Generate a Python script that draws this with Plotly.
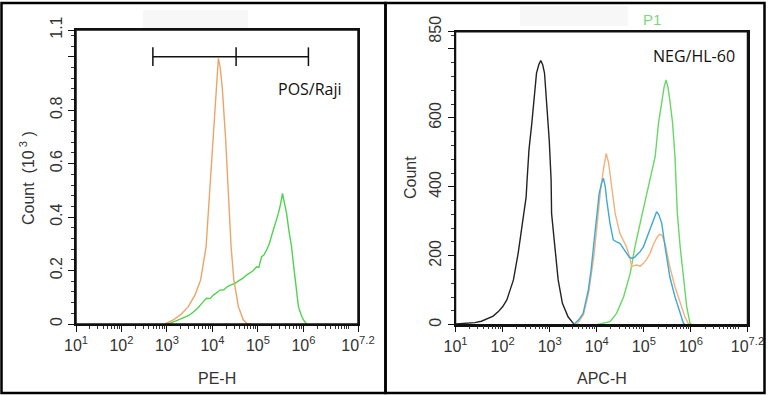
import numpy as np
import plotly.graph_objects as go

W, H = 774, 395

# ---------------- data (x positions as log10 of intensity) ----------------
# Left panel: PE-H, Count (10^3)
pos_orange_log = [2.95, 2.99, 3.14, 3.30, 3.47, 3.62, 3.74, 3.86, 3.96, 4.02, 4.09, 4.13,
                  4.17, 4.22, 4.29, 4.35, 4.41, 4.47, 4.57, 4.68, 4.77, 4.85]
pos_orange_val = [0.0, 0.003, 0.015, 0.035, 0.065, 0.11, 0.165, 0.289, 0.539, 0.69, 0.875, 0.994,
                  0.96, 0.875, 0.69, 0.50, 0.289, 0.165, 0.065, 0.015, 0.0, 0.0]

pos_green_log = [3.00, 3.07, 3.20, 3.35, 3.48, 3.58, 3.68, 3.78, 3.87, 3.95, 4.02, 4.10, 4.17,
                 4.25, 4.33, 4.42, 4.50, 4.58, 4.66, 4.75, 4.83, 4.90, 4.97, 5.02, 5.08, 5.13,
                 5.19, 5.25, 5.30, 5.34, 5.40, 5.45, 5.50, 5.54, 5.58, 5.63, 5.68, 5.74, 5.78,
                 5.82, 5.86, 5.89, 5.95, 6.00, 6.07]
pos_green_val = [0.0, 0.003, 0.012, 0.022, 0.032, 0.045, 0.060, 0.080, 0.096, 0.095, 0.108, 0.118, 0.127,
                 0.128, 0.140, 0.147, 0.152, 0.162, 0.170, 0.183, 0.193, 0.200, 0.214, 0.212, 0.252, 0.258,
                 0.277, 0.300, 0.330, 0.352, 0.385, 0.414, 0.450, 0.489, 0.455, 0.414, 0.350, 0.289, 0.225,
                 0.165, 0.110, 0.065, 0.035, 0.015, 0.0]

gate_log = [2.69, 4.52, 6.11]
gate_level = 1.0
gate_cap = [0.965, 1.035]

# Right panel: APC-H, Count
neg_black_log = [1.00, 1.20, 1.41, 1.55, 1.70, 1.80, 1.91, 2.00, 2.09, 2.16, 2.23, 2.33, 2.44, 2.50,
                 2.52, 2.56, 2.62, 2.67, 2.72, 2.77, 2.81, 2.85, 2.89, 2.94, 2.99, 3.03, 3.04, 3.11,
                 3.18, 3.27, 3.39, 3.50, 3.55]
neg_black_val = [2, 3, 6, 10, 19, 25, 38, 52, 72, 100, 130, 207, 304, 371,
                 420, 507, 584, 662, 730, 755, 766, 755, 730, 633, 536, 420, 323, 226,
                 130, 62, 23, 4, 0]

neg_blue_log = [3.50, 3.54, 3.62, 3.71, 3.82, 3.88, 3.93, 4.00, 4.05, 4.10, 4.14, 4.18, 4.21, 4.28,
                4.35, 4.42, 4.49, 4.56, 4.63, 4.69, 4.74, 4.80, 4.85, 4.92, 4.99, 5.06, 5.13, 5.20,
                5.27, 5.32, 5.38, 5.45, 5.55, 5.66, 5.77, 5.84, 5.88]
neg_blue_val = [0, 4, 15, 33, 100, 160, 226, 323, 380, 410, 425, 400, 362, 294,
                246, 240, 236, 222, 207, 196, 193, 195, 202, 212, 226, 250, 275, 300,
                328, 318, 294, 226, 139, 81, 33, 4, 0]

neg_orange_log = [3.55, 3.60, 3.72, 3.83, 3.94, 4.01, 4.08, 4.14, 4.20, 4.25, 4.32, 4.39, 4.49, 4.56,
                  4.63, 4.70, 4.74, 4.80, 4.85, 4.92, 4.99, 5.06, 5.13, 5.20, 5.27, 5.33, 5.38,
                  5.45, 5.55, 5.66, 5.77, 5.87, 5.94, 5.98]
neg_orange_val = [0, 5, 30, 95, 200, 300, 390, 450, 497, 470, 391, 323, 265, 245,
                  226, 195, 168, 172, 173, 170, 178, 190, 207, 232, 251, 262, 260,
                  236, 168, 110, 62, 23, 4, 0]

neg_green_log = [4.00, 4.14, 4.28, 4.42, 4.57, 4.71, 4.81, 4.92, 5.02, 5.13, 5.24, 5.31, 5.38, 5.43,
                 5.47, 5.51, 5.55, 5.61, 5.66, 5.68, 5.71, 5.77, 5.84, 5.91, 5.98, 6.02]
neg_green_val = [0, 4, 9, 33, 81, 149, 226, 294, 352, 420, 488, 584, 652, 690,
                 710, 690, 652, 584, 488, 420, 323, 226, 130, 52, 4, 0]

x_exps = [1, 2, 3, 4, 5, 6, 7.2]
x_ticktext = ["10<sup>%s</sup>" % e for e in x_exps]
left_yticks = [0, 0.2, 0.4, 0.6, 0.8, 1.0, 1.1]
left_ytext = ["0", "0.2", "0.4", "0.6", "0.8", "", "1.1"]
right_yticks = [0, 200, 400, 600, 800, 850]
right_ytext = ["0", "200", "400", "600", "", "850"]

# ---------------- figure ----------------
def px_x(p):
    return p / W

def px_y(p):
    return 1 - p / H

def xs(lst):
    return [10 ** v for v in lst]

fig = go.Figure()
lw = 1.4
fig.add_trace(go.Scatter(x=xs(pos_green_log), y=pos_green_val, mode="lines",
                         line=dict(color="#4fd34f", width=lw), xaxis="x", yaxis="y"))
fig.add_trace(go.Scatter(x=xs(pos_orange_log), y=pos_orange_val, mode="lines",
                         line=dict(color="#eba46a", width=lw), xaxis="x", yaxis="y"))
# gate bar
gx, gy = [], []
gx += [10 ** gate_log[0], 10 ** gate_log[-1], None]
gy += [gate_level, gate_level, None]
for g in gate_log:
    gx += [10 ** g, 10 ** g, None]
    gy += [gate_cap[0], gate_cap[1], None]
fig.add_trace(go.Scatter(x=gx, y=gy, mode="lines", line=dict(color="#111", width=1.5),
                         xaxis="x", yaxis="y", cliponaxis=False))

fig.add_trace(go.Scatter(x=xs(neg_black_log), y=neg_black_val, mode="lines",
                         line=dict(color="#222222", width=lw), xaxis="x2", yaxis="y2"))
fig.add_trace(go.Scatter(x=xs(neg_green_log), y=neg_green_val, mode="lines",
                         line=dict(color="#66d866", width=lw), xaxis="x2", yaxis="y2"))
fig.add_trace(go.Scatter(x=xs(neg_orange_log), y=neg_orange_val, mode="lines",
                         line=dict(color="#f0b27c", width=lw), xaxis="x2", yaxis="y2"))
fig.add_trace(go.Scatter(x=xs(neg_blue_log), y=neg_blue_val, mode="lines",
                         line=dict(color="#3ea9d6", width=lw), xaxis="x2", yaxis="y2"))

tick_font = dict(family="Liberation Sans, Arial", size=16, color="#333")

def xaxis_cfg(d0, d1, anchor):
    return dict(domain=[d0, d1], anchor=anchor, type="log", range=[1, 7.2], automargin=False,
                tickmode="array", tickvals=[10 ** e for e in x_exps], ticktext=x_ticktext,
                ticks="outside", ticklen=6, tickcolor="#111", tickwidth=1,
                showline=True, linecolor="#111", linewidth=1.5, mirror=True,
                showgrid=False, zeroline=False, tickfont=tick_font,
                minor=dict(ticks="outside", ticklen=3, tickcolor="#333", dtick="D1", showgrid=False))

def yaxis_cfg(d0, d1, anchor, rng, tv, tt, mdt):
    return dict(domain=[d0, d1], anchor=anchor, range=rng, automargin=False,
                tickmode="array", tickvals=tv, ticktext=tt, tickangle=-90,
                ticks="outside", ticklen=6, tickcolor="#111", tickwidth=1,
                showline=True, linecolor="#111", linewidth=1.5, mirror=True,
                showgrid=False, zeroline=False, tickfont=tick_font,
                minor=dict(ticks="outside", ticklen=3, tickcolor="#333", dtick=mdt, tick0=0,
                           tickmode="linear", showgrid=False))

fig.update_layout(
    width=W, height=H, autosize=False, margin=dict(l=0, r=0, t=0, b=0, pad=0, autoexpand=False),
    paper_bgcolor="white", plot_bgcolor="white", showlegend=False,
    xaxis=xaxis_cfg(px_x(76), px_x(358), "y"),
    yaxis=yaxis_cfg(px_y(324), px_y(30), "x", [0, 1.1], left_yticks, left_ytext, 0.04),
    xaxis2=xaxis_cfg(px_x(455.5), px_x(747.5), "y2"),
    yaxis2=yaxis_cfg(px_y(324.7), px_y(31.7), "x2", [0, 850], right_yticks, right_ytext, 40),
)

title_font = dict(family="Liberation Sans, Arial", size=16, color="#333")
label_font = dict(family="Open Sans, Noto Sans", size=16, color="#111")
annos = [
    dict(text="PE-H", x=px_x(217), y=px_y(378), font=title_font),
    dict(text="APC-H", x=px_x(602), y=px_y(378), font=title_font),
    dict(text="Count  (10<sup> 3</sup> )", x=px_x(27), y=px_y(178), textangle=-90, font=title_font),
    dict(text="Count", x=px_x(411), y=px_y(178), textangle=-90, font=title_font),
    dict(text="POS/Raji", x=px_x(310), y=px_y(89), font=label_font),
    dict(text="NEG/HL-60", x=px_x(694), y=px_y(56), font=label_font),
    dict(text="P1", x=px_x(652), y=px_y(19), font=dict(family="Liberation Sans, Arial", size=15, color="#7fd67f")),
]
for a in annos:
    a.update(xref="paper", yref="paper", showarrow=False, xanchor="center", yanchor="middle")
    fig.add_annotation(**a)

# faint smudges at top, plot boxes and outer frames
shapes = [
    dict(type="rect", xref="paper", yref="paper", x0=px_x(143), x1=px_x(248), y0=px_y(28), y1=px_y(10),
         fillcolor="#f7f7f7", line=dict(width=0), layer="below"),
    dict(type="rect", xref="paper", yref="paper", x0=px_x(520), x1=px_x(628), y0=px_y(26), y1=px_y(6),
         fillcolor="#f7f7f7", line=dict(width=0), layer="below"),
    dict(type="rect", xref="x domain", yref="y domain", x0=0, x1=1, y0=0, y1=1,
         line=dict(color="#111", width=1.5), fillcolor="rgba(0,0,0,0)"),
    dict(type="rect", xref="x2 domain", yref="y2 domain", x0=0, x1=1, y0=0, y1=1,
         line=dict(color="#111", width=1.5), fillcolor="rgba(0,0,0,0)"),
    dict(type="rect", xref="paper", yref="paper", x0=px_x(1.5), x1=px_x(385.5), y0=px_y(393), y1=px_y(3),
         line=dict(color="black", width=2.5), fillcolor="rgba(0,0,0,0)"),
    dict(type="rect", xref="paper", yref="paper", x0=px_x(385.5), x1=px_x(764.5), y0=px_y(393), y1=px_y(3),
         line=dict(color="black", width=2.5), fillcolor="rgba(0,0,0,0)"),
]
for s in shapes:
    fig.add_shape(**s)

fig.write_html("out.html", include_plotlyjs=True, config={"displayModeBar": False},
               post_script="document.body.style.margin='0px';document.body.style.padding='0px';"
                           "document.documentElement.style.overflow='hidden';")
